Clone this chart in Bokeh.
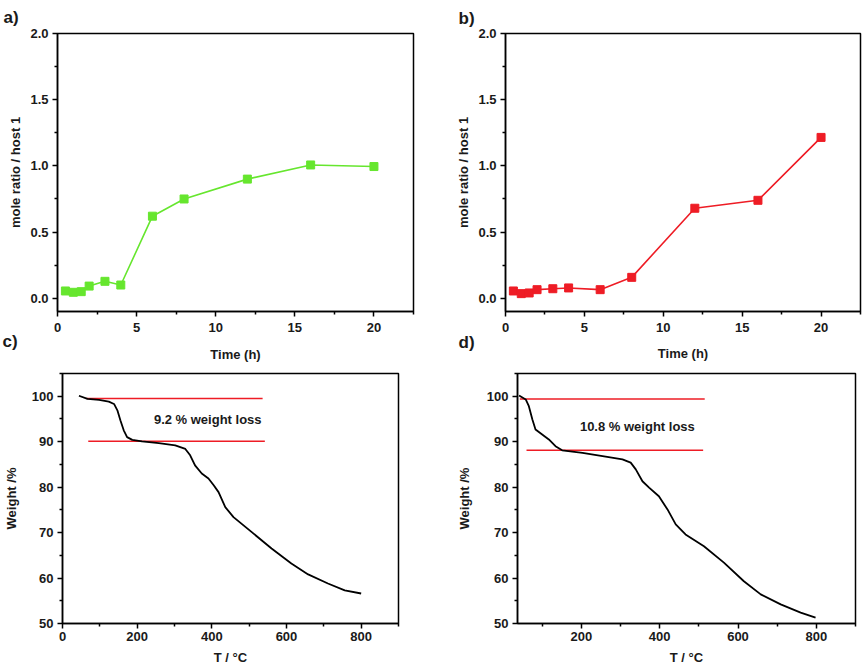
from bokeh.plotting import figure
from bokeh.layouts import row, column
from bokeh.models import FixedTicker, Range1d, Title, PrintfTickFormatter
from bokeh.embed import file_html
from bokeh.resources import INLINE

# ---------------- data ----------------
time_h = [0.5, 1, 1.5, 2, 3, 4, 6, 8, 12, 16, 20]
ratio_a = [0.055, 0.045, 0.05, 0.092, 0.128, 0.10, 0.62, 0.75, 0.90, 1.007, 0.995]
ratio_b = [0.055, 0.035, 0.04, 0.065, 0.072, 0.078, 0.065, 0.158, 0.68, 0.74, 1.215]

temp_c = [44, 67, 98, 124, 138, 147, 155, 164, 173, 187, 213, 258, 302, 329, 342, 355,
          373, 391, 405, 418, 436, 458, 507, 560, 613, 658, 711, 756, 800]
weight_c = [100.1, 99.4, 99.2, 98.8, 98.3, 96.9, 94.7, 92.5, 91.0, 90.4, 90.05, 89.7,
            89.2, 88.4, 87.0, 84.8, 83.0, 81.9, 80.4, 78.9, 75.6, 73.4, 70.1, 66.5,
            63.2, 60.8, 58.8, 57.3, 56.6]

temp_d = [41, 58, 66, 75, 83, 100, 117, 134, 151, 203, 262, 305, 326, 339, 356, 373,
          398, 420, 441, 466, 513, 564, 615, 658, 709, 760, 798]
weight_d = [100.15, 99.3, 97.8, 94.9, 92.7, 91.6, 90.5, 89.0, 88.1, 87.55, 86.7, 86.1,
            85.4, 83.9, 81.3, 79.9, 78.0, 75.1, 71.8, 69.6, 67.0, 63.4, 59.3, 56.4,
            54.2, 52.4, 51.3]

loss_c_levels = [99.5, 90.1]
loss_c_start = [64, 69]
loss_c_end = [536, 542]
loss_c_text = "9.2 % weight loss"
loss_c_text_pos = (389, 94.9)

loss_d_levels = [99.4, 88.1]
loss_d_start = [43, 60]
loss_d_end = [515, 511]
loss_d_text = "10.8 % weight loss"
loss_d_text_pos = (343, 93.4)

ratio_ticks = [0, 0.5, 1.0, 1.5, 2.0]
ratio_minor = [0.25, 0.75, 1.25, 1.75]
time_ticks = [0, 5, 10, 15, 20]
time_minor = [2.5, 7.5, 12.5, 17.5, 22.5]
weight_ticks = [50, 60, 70, 80, 90, 100]
weight_minor = [55, 65, 75, 85, 95, 105]
temp_ticks_c = [0, 200, 400, 600, 800]
temp_ticks_d = [200, 400, 600, 800]
temp_minor = [100, 300, 500, 700, 900]

GREEN = "#66E62E"
RED = "#EE1C25"
FONT = "Liberation Sans"
INK = "#1a1a1a"


def make_fig(w, h, bl, br, bt, bb, xr, yr):
    p = figure(width=w, height=h, output_backend="svg", toolbar_location=None,
               x_range=Range1d(*xr), y_range=Range1d(*yr),
               min_border_left=bl, min_border_right=br, min_border_top=bt,
               min_border_bottom=bb)
    p.grid.visible = False
    p.outline_line_color = "black"
    p.outline_line_width = 1.5
    p.outline_line_alpha = 1
    p.background_fill_color = "white"
    p.border_fill_color = "white"
    for ax in (p.xaxis[0], p.yaxis[0]):
        ax.axis_line_width = 1.5
        ax.major_tick_in = 0
        ax.major_tick_out = 5
        ax.minor_tick_in = 0
        ax.minor_tick_out = 3
        ax.major_tick_line_width = 1.5
        ax.minor_tick_line_width = 1.5
        ax.major_label_text_font = FONT
        ax.major_label_text_font_style = "bold"
        ax.major_label_text_font_size = "13px"
        ax.major_label_text_color = INK
        ax.axis_label_text_font = FONT
        ax.axis_label_text_font_style = "bold"
        ax.axis_label_text_font_size = "13px"
        ax.axis_label_text_color = INK
    return p


def side_title(p, text, place, align, offset, standoff, size="17px", valign="top"):
    p.add_layout(Title(text=text, align=align, offset=offset, standoff=standoff,
                       vertical_align=valign, text_font=FONT, text_font_style="bold",
                       text_font_size=size, text_color=INK), place)


# ---- a ----
pa = make_fig(430, 369, 57, 17, 33, 56, (0, 22.5), (-0.1, 2.0))
pa.xaxis.ticker = FixedTicker(ticks=time_ticks, minor_ticks=time_minor)
pa.yaxis.ticker = FixedTicker(ticks=ratio_ticks, minor_ticks=ratio_minor)
pa.yaxis.formatter = PrintfTickFormatter(format="%.1f")
pa.yaxis.axis_label = "mole ratio / host 1"
pa.xaxis.major_label_standoff = 6
pa.yaxis.major_label_standoff = 4
pa.yaxis.axis_label_standoff = 4
pa.line(time_h, ratio_a, line_color=GREEN, line_width=1.6)
pa.scatter(time_h, ratio_a, marker="square", size=8, fill_color=GREEN, line_color=GREEN)
side_title(pa, "a)", "above", "left", -54, 10)
side_title(pa, "c)", "below", "left", -55, -5)
side_title(pa, "Time (h)", "below", "center", 0, -7, size="13px")

# ---- b ----
pb = make_fig(434, 369, 75, 4, 31, 58, (0, 22.5), (-0.1, 2.0))
pb.xaxis.ticker = FixedTicker(ticks=time_ticks, minor_ticks=time_minor)
pb.yaxis.ticker = FixedTicker(ticks=ratio_ticks, minor_ticks=ratio_minor)
pb.yaxis.formatter = PrintfTickFormatter(format="%.1f")
pb.yaxis.axis_label = "mole ratio / host 1"
pb.xaxis.major_label_standoff = 6
pb.yaxis.major_label_standoff = 4
pb.yaxis.axis_label_standoff = 4
pb.line(time_h, ratio_b, line_color=RED, line_width=1.6)
pb.scatter(time_h, ratio_b, marker="square", size=8, fill_color=RED, line_color=RED)
side_title(pb, "b)", "above", "left", -47, 8)
side_title(pb, "d)", "below", "left", -47, -4)
side_title(pb, "Time (h)", "below", "center", 0, -11, size="13px")

# ---- c ----
pc = make_fig(430, 298, 60, 32, 4, 44, (0, 900), (50, 105))
pc.xaxis.ticker = FixedTicker(ticks=temp_ticks_c, minor_ticks=temp_minor)
pc.yaxis.ticker = FixedTicker(ticks=weight_ticks, minor_ticks=weight_minor)
pc.xaxis.axis_label = "T / \u00b0C"
pc.yaxis.axis_label = "Weight /%"
pc.xaxis.major_label_standoff = 3
pc.xaxis.axis_label_standoff = 6
pc.yaxis.major_label_standoff = 4
pc.yaxis.axis_label_standoff = 10
for lv, s, e in zip(loss_c_levels, loss_c_start, loss_c_end):
    pc.line([s, e], [lv, lv], line_color=RED, line_width=1.5)
pc.line(temp_c, weight_c, line_color="black", line_width=1.8, line_join="round")
pc.text(x=[loss_c_text_pos[0]], y=[loss_c_text_pos[1]], text=[loss_c_text],
        text_font={"value": FONT}, text_font_style="bold", text_font_size="13px",
        text_align="center", text_baseline="middle", text_color=INK)

# ---- d ----
pd_ = make_fig(434, 298, 87, 9, 4, 43, (37, 900), (50, 105))
pd_.xaxis.ticker = FixedTicker(ticks=temp_ticks_d, minor_ticks=temp_minor)
pd_.yaxis.ticker = FixedTicker(ticks=weight_ticks, minor_ticks=weight_minor)
pd_.xaxis.axis_label = "T / \u00b0C"
pd_.yaxis.axis_label = "Weight /%"
pd_.xaxis.major_label_standoff = 3
pd_.xaxis.axis_label_standoff = 6
pd_.yaxis.major_label_standoff = 4
pd_.yaxis.axis_label_standoff = 12
for lv, s, e in zip(loss_d_levels, loss_d_start, loss_d_end):
    pd_.line([s, e], [lv, lv], line_color=RED, line_width=1.5)
pd_.line(temp_d, weight_d, line_color="black", line_width=1.8, line_join="round")
pd_.text(x=[loss_d_text_pos[0]], y=[loss_d_text_pos[1]], text=[loss_d_text],
         text_font={"value": FONT}, text_font_style="bold", text_font_size="13px",
         text_align="center", text_baseline="middle", text_color=INK)

layout = column(row(pa, pb, spacing=0), row(pc, pd_, spacing=0), spacing=0)

open("out.html", "w").write(file_html(layout, INLINE))
